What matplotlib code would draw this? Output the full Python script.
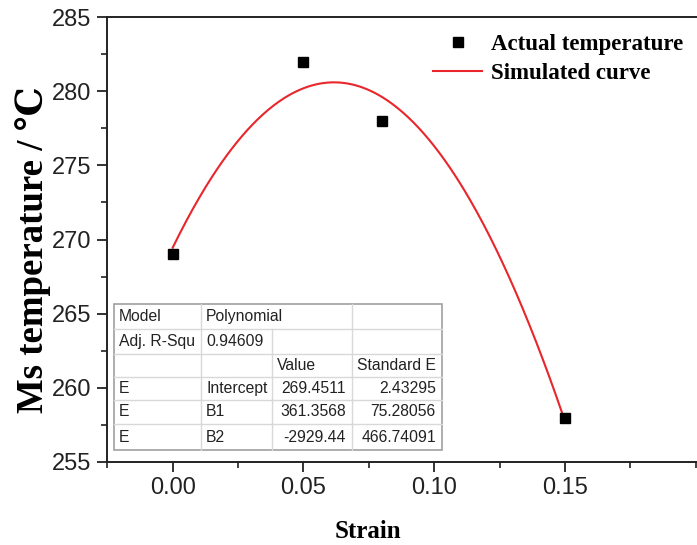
import numpy as np
import matplotlib
matplotlib.use("Agg")
import matplotlib.pyplot as plt
from matplotlib.lines import Line2D
from matplotlib.patches import Rectangle
from matplotlib.ticker import MultipleLocator

# ---- data ----
strain = [0.00, 0.05, 0.08, 0.15]
ms_temp = [269, 282, 278, 258]
coef_names = ["Intercept", "B1", "B2"]
coef_values = [269.4511, 361.3568, -2929.44]
coef_errors = [2.43295, 75.28056, 466.74091]
adj_r2 = "0.94609"
x_ticks = [0.00, 0.05, 0.10, 0.15]
y_ticks = [255, 260, 265, 270, 275, 280, 285]

W, H = 697, 545
fig = plt.figure(figsize=(W / 100, H / 100), dpi=100)

def fx(px):
    return px / W

def fy(py):
    return 1 - py / H

ax_left, ax_right, ax_top, ax_bot = 107, 701, 17, 462
ax = fig.add_axes([fx(ax_left), fy(ax_bot), fx(ax_right - ax_left), (ax_bot - ax_top) / H])

# x scale: 0.00 at px 172.7, 0.15 at 565
px_per = (565 - 172.7) / 0.15
ax.set_xlim(-(172.7 - ax_left) / px_per, 0.15 + (ax_right - 565) / px_per)
ax.set_ylim(255, 285)

xs = np.linspace(strain[0], strain[-1], 300)
ys = coef_values[0] + coef_values[1] * xs + coef_values[2] * xs ** 2
ax.plot(xs, ys, color="#e8262b", lw=1.5, zorder=2)
ax.plot(strain, ms_temp, "s", color="black", ms=7.5, zorder=3, linestyle="none")

ax.set_xticks(x_ticks)
ax.set_xticklabels([f"{v:.2f}" for v in x_ticks])
ax.set_yticks(y_ticks)
ax.xaxis.set_minor_locator(MultipleLocator(0.025))
ax.yaxis.set_minor_locator(MultipleLocator(2.5))
ax.tick_params(which="major", direction="out", length=7, width=1.3,
               labelsize=17, colors="#222222", pad=4)
ax.tick_params(which="minor", direction="out", length=4.5, width=1.2, colors="#222222")
for lab in ax.get_xticklabels() + ax.get_yticklabels():
    lab.set_fontfamily("Liberation Sans")
for s in ax.spines.values():
    s.set_linewidth(1.4)
    s.set_color("#222222")

serif = ["Liberation Serif", "DejaVu Serif", "DejaVu Sans"]
fig.text(fx(368), fy(531), "Strain", ha="center", va="center",
         fontsize=18, fontweight="bold", family=serif)
fig.text(fx(33), fy(250), "Ms temperature / ℃", ha="center", va="center",
         rotation=90, fontsize=26.5, fontweight="bold", family=serif)

# legend
handles = [Line2D([], [], marker="s", color="black", ms=7.5, linestyle="none"),
           Line2D([], [], color="#e8262b", lw=1.5)]
leg = fig.legend(handles, ["Actual temperature", "Simulated curve"],
                 loc="upper left", bbox_to_anchor=(fx(433), fy(34)),
                 frameon=False, handlelength=2.15, handletextpad=0.4,
                 labelspacing=0.33, borderaxespad=0, borderpad=0,
                 prop={"family": serif, "weight": "bold", "size": 16.5})

# table
col_x = [114, 201, 272, 352, 442]
row_y = [304, 329, 354, 377, 400, 424, 450]
rows = [["Model", "Polynomial", "", ""],
        ["Adj. R-Squ", adj_r2, "", ""],
        ["", "", "Value", "Standard E"]]
for n, v, e in zip(coef_names, coef_values, coef_errors):
    rows.append(["E", n, f"{v:g}" if abs(v) > 1000 else f"{v:.4f}", f"{e:.5f}"])

grid_c = "#d8d8d8"
border_c = "#a0a0a0"
fig.add_artist(Rectangle((fx(col_x[0]), fy(row_y[-1])), fx(col_x[-1] - col_x[0]),
                         (row_y[-1] - row_y[0]) / H, transform=fig.transFigure,
                         facecolor="white", edgecolor=border_c, lw=1.2, zorder=5))
for yy in row_y[1:-1]:
    fig.add_artist(Line2D([fx(col_x[0]), fx(col_x[-1])], [fy(yy), fy(yy)],
                          transform=fig.transFigure, color=grid_c, lw=1, zorder=6))
for j, xx in enumerate(col_x[1:-1], start=1):
    for i in range(len(row_y) - 1):
        if i == 0 and j == 2:
            continue
        fig.add_artist(Line2D([fx(xx), fx(xx)], [fy(row_y[i]), fy(row_y[i + 1])],
                              transform=fig.transFigure, color=grid_c, lw=1, zorder=6))
for i, row in enumerate(rows):
    yc = (row_y[i] + row_y[i + 1]) / 2
    for j, txt in enumerate(row):
        if not txt:
            continue
        numeric = i >= 3 and j >= 2
        if numeric:
            x = col_x[j + 1] - 6
            ha = "right"
        else:
            x = col_x[j] + 5
            ha = "left"
        fig.text(fx(x), fy(yc), txt, ha=ha, va="center", fontsize=11.3,
                 family="Liberation Sans", color="#222222", zorder=7)

fig.savefig("out.png", dpi=100)
